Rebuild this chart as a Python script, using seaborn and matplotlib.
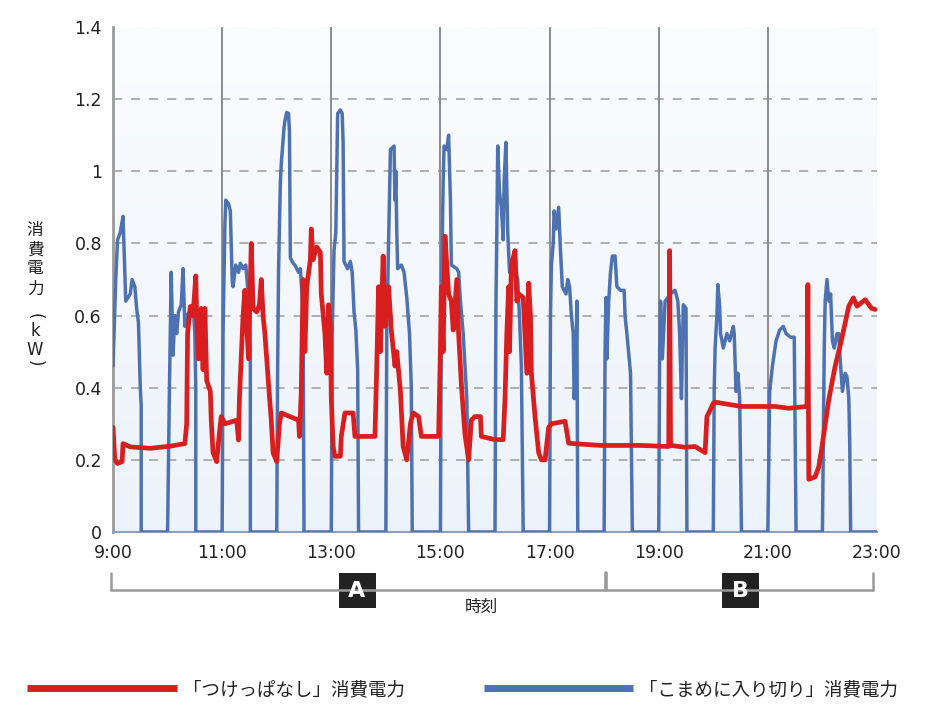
import numpy as np
import pandas as pd
import matplotlib
matplotlib.use("Agg")
import matplotlib.pyplot as plt
from matplotlib.lines import Line2D
from matplotlib.patches import Rectangle
from matplotlib.colors import LinearSegmentedColormap
import seaborn as sns

# ---------------- data ----------------
hour_ticks = [9, 11, 13, 15, 17, 19, 21, 23]
hour_labels = ["9:00", "11:00", "13:00", "15:00", "17:00", "19:00", "21:00", "23:00"]
y_ticks = [0, 0.2, 0.4, 0.6, 0.8, 1.0, 1.2, 1.4]
y_labels = ["0", "0.2", "0.4", "0.6", "0.8", "1", "1.2", "1.4"]
grid_hours = [11, 13, 15, 17, 19, 21]

series_names = ["「つけっぱなし」消費電力", "「こまめに入り切り」消費電力"]

# 「こまめに入り切り」 (blue)
blue_time = [
    "9:00", "9:03", "9:05", "9:08", "9:11", "9:12", "9:14", "9:19", "9:21", "9:24", "9:26", "9:28", "9:30", "9:31", "9:31",
    "10:00", "10:02", "10:04", "10:06", "10:08", "10:10", "10:12", "10:15", "10:17", "10:19", "10:21", "10:24", "10:28", "10:30", "10:31", "10:31",
    "11:00", "11:01", "11:03", "11:04", "11:07", "11:09", "11:11", "11:12", "11:15", "11:18", "11:20", "11:23", "11:26", "11:28", "11:30", "11:31", "11:31",
    "12:00", "12:01", "12:02", "12:04", "12:05", "12:08", "12:09", "12:11", "12:13", "12:14", "12:15", "12:18", "12:20", "12:24", "12:26", "12:28", "12:29", "12:30",
    "13:00", "13:01", "13:03", "13:05", "13:06", "13:07", "13:10", "13:12", "13:13", "13:14", "13:18", "13:21", "13:23", "13:25", "13:27", "13:29", "13:30",
    "14:00", "14:01", "14:02", "14:03", "14:04", "14:05", "14:09", "14:10", "14:11", "14:12", "14:13", "14:17", "14:20", "14:23", "14:26", "14:28", "14:29",
    "15:00", "15:01", "15:03", "15:04", "15:07", "15:09", "15:11", "15:12", "15:18", "15:20", "15:22", "15:25", "15:27", "15:29", "15:31",
    "16:00", "16:01", "16:02", "16:03", "16:05", "16:07", "16:09", "16:10", "16:12", "16:14", "16:16", "16:23", "16:25", "16:27", "16:29", "16:31",
    "17:00", "17:01", "17:02", "17:04", "17:05", "17:07", "17:10", "17:12", "17:14", "17:18", "17:20", "17:22", "17:24", "17:26", "17:27", "17:29", "17:30", "17:31",
    "18:00", "18:01", "18:02", "18:03", "18:05", "18:07", "18:09", "18:12", "18:14", "18:18", "18:22", "18:23", "18:25", "18:29", "18:31",
    "19:00", "19:01", "19:02", "19:04", "19:07", "19:13", "19:18", "19:21", "19:23", "19:25", "19:27", "19:30", "19:31",
    "20:00", "20:01", "20:02", "20:04", "20:05", "20:07", "20:08", "20:11", "20:13", "20:15", "20:18", "20:22", "20:23", "20:25", "20:27", "20:29", "20:31",
    "21:00", "21:02", "21:05", "21:09", "21:13", "21:17", "21:20", "21:25", "21:29", "21:31",
    "22:00", "22:02", "22:03", "22:05", "22:07", "22:09", "22:11", "22:13", "22:16", "22:18", "22:20", "22:22", "22:25", "22:27", "22:29", "22:30", "22:31",
    "23:00",
]
blue_kw = [
    0.46, 0.70, 0.81, 0.83, 0.875, 0.80, 0.64, 0.66, 0.70, 0.68, 0.62, 0.58, 0.40, 0.35, 0,
    0, 0.39, 0.72, 0.49, 0.60, 0.55, 0.61, 0.63, 0.73, 0.57, 0.60, 0.61, 0.63, 0.55, 0.40, 0,
    0, 0.55, 0.85, 0.92, 0.91, 0.89, 0.70, 0.68, 0.74, 0.72, 0.745, 0.73, 0.74, 0.68, 0.63, 0.50, 0,
    0, 0.45, 0.72, 0.97, 1.02, 1.12, 1.14, 1.163, 1.16, 1.11, 0.76, 0.745, 0.74, 0.72, 0.73, 0.65, 0.60, 0,
    0, 0.55, 0.78, 0.83, 1.0, 1.16, 1.17, 1.16, 1.08, 0.75, 0.73, 0.75, 0.72, 0.61, 0.56, 0.45, 0,
    0, 0.55, 0.68, 0.81, 0.94, 1.06, 1.07, 0.92, 1.0, 0.83, 0.73, 0.74, 0.72, 0.65, 0.55, 0.40, 0,
    0, 0.64, 0.97, 1.07, 1.06, 1.10, 0.92, 0.74, 0.73, 0.72, 0.64, 0.55, 0.46, 0.37, 0,
    0, 0.62, 0.83, 1.07, 0.94, 0.90, 0.81, 0.97, 1.08, 0.83, 0.72, 0.72, 0.70, 0.59, 0.46, 0,
    0, 0.60, 0.74, 0.80, 0.89, 0.84, 0.90, 0.78, 0.68, 0.66, 0.70, 0.68, 0.60, 0.55, 0.37, 0.45, 0.64, 0,
    0, 0.50, 0.65, 0.48, 0.64, 0.72, 0.765, 0.765, 0.68, 0.67, 0.67, 0.60, 0.55, 0.44, 0,
    0, 0.50, 0.64, 0.48, 0.64, 0.66, 0.67, 0.64, 0.55, 0.37, 0.63, 0.62, 0,
    0, 0.39, 0.51, 0.60, 0.686, 0.626, 0.55, 0.51, 0.53, 0.55, 0.53, 0.57, 0.55, 0.39, 0.44, 0.37, 0,
    0, 0.39, 0.46, 0.53, 0.56, 0.57, 0.55, 0.54, 0.54, 0,
    0, 0.51, 0.64, 0.70, 0.64, 0.66, 0.53, 0.51, 0.55, 0.55, 0.46, 0.39, 0.44, 0.43, 0.37, 0.25, 0,
    0,
]

# 「つけっぱなし」 (red)
red_time = [
    "9:00", "9:02", "9:05", "9:10", "9:11", "9:19", "9:41", "10:03", "10:19", "10:21", "10:22", "10:25", "10:28",
    "10:31", "10:32", "10:34", "10:36", "10:37", "10:39", "10:41", "10:43", "10:47", "10:48", "10:50", "10:54",
    "10:57", "10:59", "11:03", "11:16", "11:18", "11:19", "11:23", "11:25", "11:29", "11:32", "11:34", "11:38",
    "11:41", "11:43", "11:45", "11:47", "11:51", "11:54", "11:56", "12:00", "12:03", "12:05", "12:24", "12:25",
    "12:27", "12:29", "12:31", "12:33", "12:37", "12:38", "12:40", "12:44", "12:48", "12:49", "12:53", "12:55",
    "12:57", "12:59", "13:00", "13:02", "13:04", "13:10", "13:11", "13:15", "13:24", "13:26", "13:48", "13:50",
    "13:52", "13:54", "13:57", "13:59", "14:03", "14:06", "14:10", "14:12", "14:16", "14:19", "14:23", "14:27",
    "14:30", "14:36", "14:39", "14:58", "15:00", "15:01", "15:03", "15:05", "15:09", "15:12", "15:14", "15:18",
    "15:20", "15:23", "15:27", "15:31", "15:34", "15:38", "15:44", "15:45", "16:00", "16:09", "16:11", "16:13",
    "16:15", "16:16", "16:18", "16:22", "16:24", "16:26", "16:31", "16:35", "16:37", "16:39", "16:40", "16:44",
    "16:48", "16:51", "16:55", "16:59", "17:02", "17:17", "17:21", "17:56", "18:40", "19:11", "19:12", "19:13",
    "19:29", "19:40", "19:51", "19:53", "19:55", "20:00", "20:02", "20:31", "21:08", "21:23", "21:43", "21:44",
    "21:45", "21:52", "21:56", "21:59", "22:07", "22:14", "22:21", "22:29", "22:34", "22:38", "22:47", "22:54",
    "22:58",
]
red_kw = [
    0.29, 0.20, 0.19, 0.195, 0.245, 0.236, 0.232, 0.238, 0.245, 0.30, 0.55, 0.625, 0.60,
    0.71, 0.60, 0.48, 0.52, 0.62, 0.45, 0.62, 0.42, 0.39, 0.31, 0.22, 0.195,
    0.275, 0.32, 0.30, 0.31, 0.255, 0.37, 0.60, 0.67, 0.48, 0.80, 0.62, 0.61,
    0.63, 0.70, 0.60, 0.55, 0.41, 0.31, 0.22, 0.195, 0.30, 0.33, 0.31, 0.265,
    0.39, 0.70, 0.50, 0.68, 0.755, 0.84, 0.755, 0.79, 0.775, 0.66, 0.55, 0.44,
    0.63, 0.57, 0.37, 0.237, 0.21, 0.21, 0.265, 0.33, 0.33, 0.265, 0.265, 0.46,
    0.68, 0.50, 0.765, 0.57, 0.68, 0.56, 0.46, 0.50, 0.39, 0.237, 0.20, 0.30,
    0.33, 0.32, 0.265, 0.265, 0.51, 0.68, 0.50, 0.82, 0.66, 0.64, 0.56, 0.70,
    0.55, 0.41, 0.27, 0.20, 0.31, 0.32, 0.32, 0.265, 0.256, 0.256, 0.37, 0.55,
    0.68, 0.50, 0.74, 0.78, 0.64, 0.66, 0.65, 0.44, 0.69, 0.60, 0.44, 0.32,
    0.22, 0.20, 0.20, 0.29, 0.30, 0.307, 0.246, 0.24, 0.24, 0.237, 0.78, 0.24,
    0.235, 0.237, 0.22, 0.32, 0.33, 0.357, 0.36, 0.348, 0.348, 0.343, 0.348, 0.686,
    0.146, 0.153, 0.181, 0.228, 0.367, 0.46, 0.533, 0.626, 0.649, 0.626, 0.644, 0.62,
    0.617,
]


def to_hours(times):
    out = []
    for t in times:
        h, m = t.split(":")
        out.append(int(h) + int(m) / 60.0)
    return out


df_blue = pd.DataFrame({"hour": to_hours(blue_time), "kw": blue_kw})
df_red = pd.DataFrame({"hour": to_hours(red_time), "kw": red_kw})

# ---------------- style ----------------
sns.set_style("white")
plt.rcParams["font.family"] = ["DejaVu Sans", "Noto Sans CJK JP"]

RED = "#d81e1e"
BLUE = "#4e72b1"
W, H = 932, 718

fig = plt.figure(figsize=(W / 100, H / 100), dpi=100)
fig.patch.set_facecolor("white")


def fx(px):
    return px / W


def fy(py):
    return (H - py) / H


ax = fig.add_axes([fx(113), fy(532), fx(877) - fx(113), fy(27) - fy(532)])

# light blue gradient background
bg = LinearSegmentedColormap.from_list("bg", ["#edf3fa", "#fbfcfe"])
ax.imshow(np.linspace(0, 1, 256).reshape(-1, 1), extent=[9, 23, 0, 1.4],
          aspect="auto", cmap=bg, origin="lower", zorder=0)

for y in y_ticks[1:-1]:
    ax.axhline(y, color="#a9a9a9", lw=1.3, ls=(0, (5, 5)), zorder=1)
for h in grid_hours:
    ax.axvline(h, color="#8c8c8c", lw=1.4, zorder=1)

sns.lineplot(data=df_blue, x="hour", y="kw", estimator=None, sort=False,
             color=BLUE, lw=2.5, ax=ax, zorder=3)
sns.lineplot(data=df_red, x="hour", y="kw", estimator=None, sort=False,
             color=RED, lw=3.4, ax=ax, zorder=4)

ax.set_xlim(9, 23)
ax.set_ylim(0, 1.4)
ax.set_xticks(hour_ticks)
ax.set_xticklabels(hour_labels)
ax.set_yticks(y_ticks)
ax.set_yticklabels(y_labels)
ax.set_xlabel("")
ax.set_ylabel("")
ax.tick_params(axis="both", length=0, labelsize=12.5, colors="#222222")
ax.tick_params(axis="y", pad=8)
ax.tick_params(axis="x", pad=9)

for s in ["top", "right"]:
    ax.spines[s].set_visible(False)
ax.spines["left"].set_color("#9a9a9a")
ax.spines["left"].set_linewidth(2)
ax.spines["bottom"].set_color("#8b9fbf")
ax.spines["bottom"].set_linewidth(1.5)

# vertical y-axis title
ylab_chars = ["消", "費", "電", "力", "(", "k", "W", ")"]
ylab_pos = [231, 250, 269, 289, 316, 331, 350, 363]
for ch, py in zip(ylab_chars, ylab_pos):
    rot = -90 if ch in "()" else 0
    fam = ["DejaVu Sans"] if ch in "()kW" else ["Noto Sans CJK JP", "DejaVu Sans"]
    fig.text(fx(35), fy(py), ch, ha="center", va="center", fontsize=12,
             rotation=rot, color="#222222", family=fam)

# brackets A / B and time label
gray = "#9a9a9a"
fig.add_artist(Line2D([fx(111), fx(873)], [fy(590), fy(590)], color=gray, lw=1.8))
for px in (111, 873):
    fig.add_artist(Line2D([fx(px), fx(px)], [fy(573), fy(590)], color=gray, lw=1.8))
fig.add_artist(Line2D([fx(606), fx(606)], [fy(573), fy(590)], color=gray, lw=2.6))
for label, cx in (("A", 357), ("B", 740)):
    fig.add_artist(Rectangle((fx(cx - 18.5), fy(608)), 37 / W, 35 / H,
                             facecolor="#222222", edgecolor="none"))
    fig.text(fx(cx), fy(591), label, ha="center", va="center", color="white",
             fontsize=16, fontweight="bold", family=["DejaVu Sans"])
fig.text(fx(481), fy(607), "時刻", ha="center", va="center", fontsize=12,
         color="#222222", family=["Noto Sans CJK JP"])

# legend (drawn below the chart)
for (x0, x1, tx), color, name in zip(((27, 177, 183), (484, 633, 639)), (RED, BLUE), series_names):
    fig.add_artist(Line2D([fx(x0), fx(x1)], [fy(688), fy(688)], color=color, lw=5,
                          solid_capstyle="butt"))
    fig.text(fx(tx), fy(690), name, ha="left", va="center", fontsize=13.3,
             color="#222222", family=["Noto Sans CJK JP"])

fig.savefig("out.png", dpi=100)
